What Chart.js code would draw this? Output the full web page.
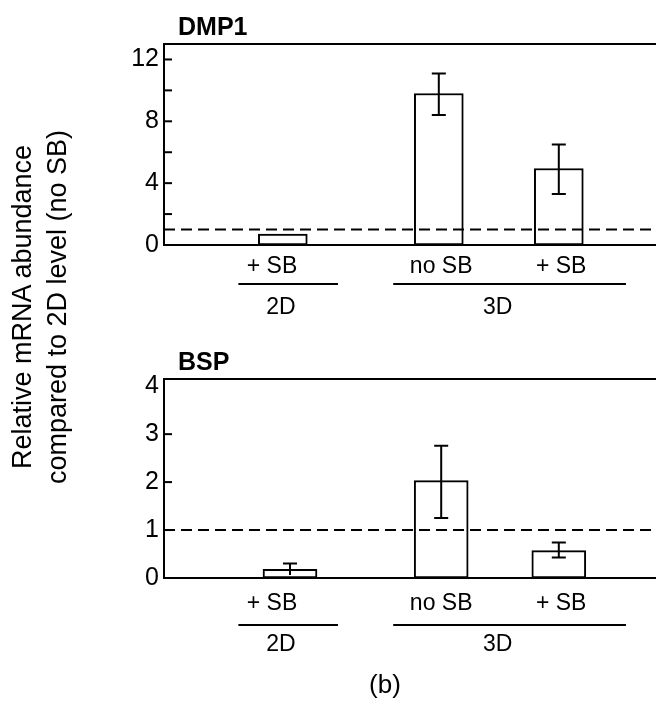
<!DOCTYPE html>
<html>
<head>
<meta charset="utf-8">
<script src="https://cdn.jsdelivr.net/npm/chart.js@4.4.1/dist/chart.umd.min.js"></script>
<style>
  html, body { margin: 0; padding: 0; background: #fff; }
  body { width: 656px; height: 704px; position: relative; overflow: hidden; font-family: "Liberation Sans", Arial, sans-serif; }
  canvas { position: absolute; left: 0; }
  #c1 { top: 0; }
  #c2 { top: 340px; }
  #ytitle {
    position: absolute; left: -160px; top: 272px; width: 400px; height: 70px;
    transform: rotate(-90deg); text-align: center; font-size: 27px; line-height: 35px; color: #000;
    white-space: nowrap;
  }
  #panel { position: absolute; left: 335px; top: 669px; width: 100px; text-align: center; font-size: 26px; color: #000; }
</style>
</head>
<body>
<canvas id="c1" width="656" height="340"></canvas>
<canvas id="c2" width="656" height="364"></canvas>
<div id="ytitle">Relative mRNA abundance<br>compared to 2D level (no SB)</div>
<div id="panel">(b)</div>
<script>
// ---- data ----
const catLabels = ['+ SB', 'no SB', '+ SB'];
const groupLabels = ['2D', '3D'];
const baselineLevel = 1;

const dmp1Values = [0.7, 9.8, 4.95];
const dmp1ErrHigh = [null, 11.1, 6.5];
const dmp1ErrLow = [null, 8.4, 3.3];
const dmp1TickLabels = [0, 4, 8, 12];
const dmp1TickMarks = [2, 4, 6, 8, 10, 12];

const bspValues = [0.18, 2.03, 0.57];
const bspErrHigh = [0.30, 2.76, 0.74];
const bspErrLow = [0.06, 1.25, 0.43];
const bspTickLabels = [0, 1, 2, 3, 4];
const bspTickMarks = [1, 2, 3];

// category positions on the linear x axis (axis units)
const dmp1BarX = [9.9, 22.9, 32.9];
const bspBarX = [10.5, 23.1, 32.9];
const catLabelX = [9.0, 23.1, 33.1];
const groupSpans = [[6.2, 14.5], [19.1, 38.5]];
const groupLabelX = [9.75, 27.8];

Chart.defaults.font.family = '"Liberation Sans", Arial, sans-serif';
Chart.defaults.color = '#000';

const annot = {
  id: 'annot',
  afterDraw(chart, args, o) {
    const ctx = chart.ctx;
    const { left, right, top, bottom } = chart.chartArea;
    const x = chart.scales.x, y = chart.scales.y;
    ctx.save();
    ctx.strokeStyle = '#000';
    ctx.fillStyle = '#000';
    ctx.lineWidth = 2;
    // top frame line
    ctx.beginPath(); ctx.moveTo(left - 1, top); ctx.lineTo(right, top); ctx.stroke();
    // inner tick marks
    o.marks.forEach(v => {
      const py = y.getPixelForValue(v);
      ctx.beginPath(); ctx.moveTo(left, py); ctx.lineTo(left + 8, py); ctx.stroke();
    });
    // error bars
    const zeroPx = y.getPixelForValue(0);
    o.barX.forEach((bx, i) => {
      const hi = o.errHigh[i], lo = o.errLow[i];
      if (hi == null) return;
      const px = x.getPixelForValue(bx);
      const ph = y.getPixelForValue(hi), pl = y.getPixelForValue(lo);
      ctx.beginPath();
      ctx.moveTo(px, ph); ctx.lineTo(px, pl);
      ctx.moveTo(px - o.cap, ph); ctx.lineTo(px + o.cap, ph);
      if (zeroPx - pl > 6) { ctx.moveTo(px - o.cap, pl); ctx.lineTo(px + o.cap, pl); }
      ctx.stroke();
    });
    // group lines and labels
    ctx.font = '23px "Liberation Sans", Arial, sans-serif';
    ctx.textAlign = 'center';
    ctx.textBaseline = 'middle';
    groupSpans.forEach((s, i) => {
      const x1 = x.getPixelForValue(s[0]), x2 = x.getPixelForValue(s[1]);
      const ly = bottom + o.lineOffset;
      ctx.beginPath(); ctx.moveTo(x1, ly); ctx.lineTo(x2, ly); ctx.stroke();
      ctx.fillText(groupLabels[i], x.getPixelForValue(groupLabelX[i]), bottom + o.groupOffset);
    });
    // panel title
    ctx.font = 'bold 25px "Liberation Sans", Arial, sans-serif';
    ctx.textAlign = 'left';
    ctx.textBaseline = 'alphabetic';
    ctx.fillText(o.title, left + 14, top - 9);
    ctx.restore();
  }
};

function makeChart(id, cfg) {
  return new Chart(document.getElementById(id), {
    data: {
      datasets: [
        {
          type: 'line',
          data: [{ x: 0, y: baselineLevel }, { x: 41, y: baselineLevel }],
          borderColor: '#000', borderWidth: 2, borderDash: [11, 6],
          pointRadius: 0, fill: false, order: 0
        },
        {
          type: 'bar',
          data: cfg.barX.map((bx, i) => ({ x: bx, y: cfg.values[i] })),
          backgroundColor: '#fff', borderColor: '#000', borderWidth: 2,
          borderSkipped: false, barThickness: cfg.barThickness, order: 1
        }
      ]
    },
    options: {
      responsive: false, animation: false,
      layout: { padding: { left: 0, right: 0, top: cfg.top, bottom: 0 } },
      plugins: {
        legend: { display: false }, tooltip: { enabled: false },
        annot: {
          title: cfg.title, marks: cfg.marks, barX: cfg.barX,
          errHigh: cfg.errHigh, errLow: cfg.errLow, cap: 7,
          lineOffset: cfg.lineOffset, groupOffset: cfg.groupOffset
        }
      },
      scales: {
        x: {
          type: 'linear', min: 0, max: 41, offset: false,
          grid: { display: false, drawTicks: false, offset: false },
          border: { display: true, color: '#000', width: 2 },
          afterBuildTicks: s => { s.ticks = catLabelX.map(v => ({ value: v })); },
          afterFit: s => { s.height = cfg.xHeight; },
          ticks: {
            autoSkip: false, maxRotation: 0, padding: cfg.labelPad,
            font: { size: 23 },
            callback: (v, i) => catLabels[i]
          }
        },
        y: {
          type: 'linear', min: 0, max: cfg.max,
          grid: { display: false, drawTicks: false },
          border: { display: true, color: '#000', width: 2 },
          afterFit: s => { s.width = 164; },
          ticks: {
            stepSize: cfg.step, includeBounds: false, padding: 5,
            font: { size: 25 },
            callback: v => cfg.tickLabels.includes(v) ? String(v) : ''
          }
        }
      }
    },
    plugins: [annot]
  });
}

makeChart('c1', {
  title: 'DMP1', values: dmp1Values, barX: dmp1BarX, errHigh: dmp1ErrHigh, errLow: dmp1ErrLow,
  tickLabels: dmp1TickLabels, marks: dmp1TickMarks, max: 13, step: 2,
  top: 44, xHeight: 95, barThickness: 49, labelPad: 8, lineOffset: 39, groupOffset: 63
});
makeChart('c2', {
  title: 'BSP', values: bspValues, barX: bspBarX, errHigh: bspErrHigh, errLow: bspErrLow,
  tickLabels: bspTickLabels, marks: bspTickMarks, max: 4.15, step: 1,
  top: 39, xHeight: 126, barThickness: 54, labelPad: 12, lineOffset: 47, groupOffset: 67
});
</script>
</body>
</html>
